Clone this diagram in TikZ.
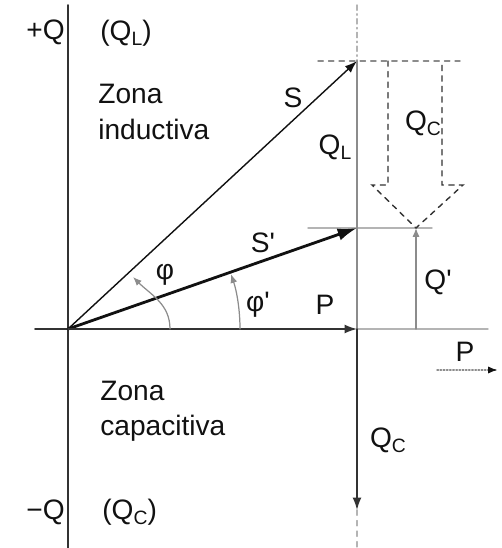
\documentclass[tikz,border=0pt]{standalone}
\usepackage{fontspec}
\setmainfont{Liberation Sans}
\usepackage{tikz}
\usetikzlibrary{arrows.meta}
\usetikzlibrary{calc}
\definecolor{pfink}{HTML}{111111}
\definecolor{pfdark}{HTML}{333333}
\definecolor{pfgray}{HTML}{8C8C8C}
\definecolor{pflight}{HTML}{B4B4B4}
\newcommand{\pfsub}[1]{\raisebox{-0.35ex}{\fontsize{11}{11}\selectfont #1}}
\newcommand{\pfprime}{\textquotesingle}
\tikzset{
  pflabel/.style={font=\fontsize{16}{20}\selectfont, text=pfink, inner sep=0pt},
  pfzone/.style={pflabel, anchor=west, align=left},
  pfaxis/.style={draw=pfdark, line width=1pt},
  pfguide/.style={draw=pflight, line width=0.8pt},
  pfvec/.style={-{Latex[length=7pt, width=5pt]}, draw=pfink, line width=0.8pt},
  pfangle/.style={-{Latex[length=5pt, width=4pt]}, draw=pfgray, line width=0.7pt},
  every picture/.style={line cap=round},
}

\begin{document}
\begin{tikzpicture}[x=1cm, y=1cm,
  bigvec/.style={pfvec, -{Latex[length=11pt, width=7pt]}, line width=1.6pt},
  hollow/.style={draw=pfdark, dashed, line width=0.8pt}]
\useasboundingbox (0, 0) rectangle (10.04, 10.96);

% Points.
\coordinate (O) at (1.36, 4.38);
\coordinate (S) at (7.14, 9.74);
\coordinate (Sp) at (7.14, 6.40);
\coordinate (P) at (7.14, 4.38);
\coordinate (QCtip) at (7.14, 0.76);
\coordinate (Qtop) at (1.36, 10.86);
\coordinate (Qbot) at (1.36, 0);
\coordinate (Pleft) at (0.70, 4.38);
\coordinate (Pright) at (9.76, 4.38);
\coordinate (Vtop) at (7.14, 10.86);
\coordinate (Vbot) at (7.14, 0);
\coordinate (SgL) at (6.36, 9.74);
\coordinate (SgR) at (9.20, 9.74);
\coordinate (SpgL) at (6.16, 6.40);
\coordinate (SpgR) at (8.64, 6.40);
\coordinate (Qct) at (8.32, 6.40);
\coordinate (Qpb) at (8.32, 4.38);

% ------------------------------------------------------------ axes
\draw[pfaxis] (Qtop) -- (Qbot);
\draw[pfaxis] (Pleft) -- (O);
\draw[pfguide] (P) -- (Pright);
\draw[pfguide, dash dot] (Vtop) -- (S);
\draw[pfguide, dashed] (QCtip) -- (Vbot);

% guides at the vector tips
\draw[pfguide, dashed, draw=pfgray] (SgL) -- (SgR);
\draw[pfguide] (SpgL) -- (SpgR);

% ------------------------------------------------------------ vectors
\draw[pfvec] (O) -- (S);
\draw[bigvec] (O) -- (Sp);
\draw[pfvec, draw=pfdark] (O) -- (P);
\draw[draw=pfgray, line width=1.3pt] (P) -- (S);
\draw[pfvec, draw=pfdark] (P) -- (QCtip);
\draw[pfvec, draw=pfgray, -{Latex[length=5pt, width=4pt]}] (Qpb) -- (Qct);

% compensation arrow
\draw[hollow] (7.76, 9.74) -- (7.76, 7.26) -- (7.44, 7.26) -- (Qct)
  -- (9.26, 7.26) -- (8.84, 7.26) -- (8.84, 9.74);

% angles
\draw[pfangle] (3.40, 4.38) to[out=90, in=-45] (2.66, 5.42);
\draw[pfangle] ($(O)+(3.44, 0)$) arc[start angle=0, end angle=18.6, radius=3.44];

% P direction
\draw[pfguide, densely dotted, draw=pfgray] (8.74, 3.56) -- (9.94, 3.56);
\draw[-{Latex[length=5pt, width=4pt]}, draw=pfink] (9.80, 3.56) -- (9.94, 3.56);

% ------------------------------------------------------------ labels
\node[pflabel, anchor=east] (lQplus) at (1.30, 10.32) {+Q};
\node[pflabel, anchor=west] (lQL) at (2.00, 10.30) {(Q\pfsub{L})};
\node[pfzone] (lind) at (1.96, 8.72) {Zona\\inductiva};
\node[pflabel] (lS) at (5.86, 9.00) {S};
\node[pflabel] (lQLv) at (6.70, 8.02) {Q\pfsub{L}};
\node[pflabel] (lQCa) at (8.46, 8.50) {Q\pfsub{C}};
\node[pflabel] (lSp) at (5.26, 6.10) {S\pfprime};
\node[pflabel] (lphi) at (3.30, 5.46) {φ};
\node[pflabel] (lphip) at (5.16, 4.86) {φ\pfprime};
\node[pflabel] (lP) at (6.50, 4.86) {P};
\node[pflabel] (lQp) at (8.76, 5.32) {Q\pfprime};
\node[pflabel] (lPdir) at (9.30, 3.92) {P};
\node[pfzone] (lcap) at (2.00, 2.74) {Zona\\capacitiva};
\node[pflabel] (lQCv) at (7.76, 2.16) {Q\pfsub{C}};
\node[pflabel, anchor=east] (lQminus) at (1.30, 0.72) {−Q};
\node[pflabel, anchor=west] (lQC) at (2.04, 0.72) {(Q\pfsub{C})};

\end{tikzpicture}
\end{document}
